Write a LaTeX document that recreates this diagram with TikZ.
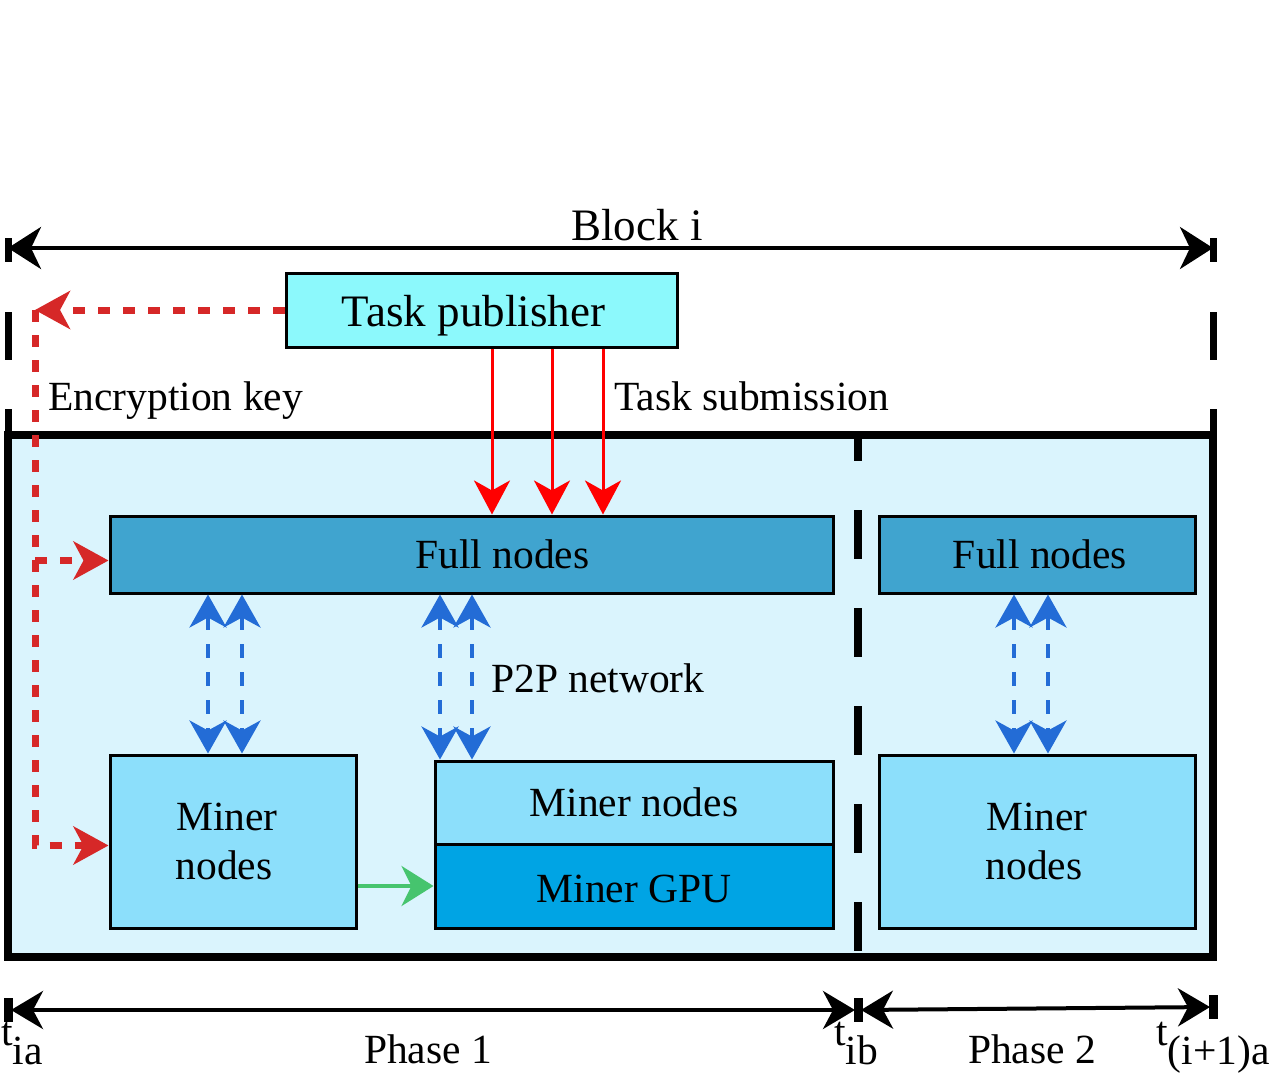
\documentclass[tikz,border=0pt]{standalone}
\usepackage{fontspec}
\setmainfont{Liberation Serif}
\usetikzlibrary{arrows.meta}
\usetikzlibrary{calc}
\definecolor{panelbg}{RGB}{218,244,253}
\definecolor{pubcyan}{RGB}{140,249,252}
\definecolor{fullblue}{RGB}{64,164,207}
\definecolor{minerblue}{RGB}{140,223,251}
\definecolor{gpublue}{RGB}{0,164,228}
\definecolor{keyred}{RGB}{214,40,40}
\definecolor{taskred}{RGB}{255,0,0}
\definecolor{p2pblue}{RGB}{35,108,214}
\definecolor{gpugreen}{RGB}{70,196,110}
\newcommand{\bigfont}{\fontsize{41.5}{49}\selectfont}
\newcommand{\headfont}{\fontsize{45}{50}\selectfont}
\newcommand{\tlabel}[1]{t\raisebox{-19pt}{#1}}
\newcommand{\lowered}[2]{\raisebox{-#1}[\height][\depth]{#2}}

\begin{document}
\begin{tikzpicture}[x=1pt,y=-1pt,font=\bigfont,
box/.style={draw=black,line width=3pt,inner sep=0pt,align=center},
blockline/.style={line width=4pt,{Stealth[length=33pt,width=42pt,inset=10pt]}-{Stealth[length=33pt,width=42pt,inset=10pt]}},
timeline/.style={line width=4pt,shorten <=3pt,shorten >=3pt,{Stealth[length=32pt,width=38pt,inset=10pt]}-{Stealth[length=32pt,width=38pt,inset=10pt]}},
tickbar/.style={line width=9pt},
edgedash/.style={line width=7pt,dash pattern=on 24pt off 50pt on 48pt off 49pt on 40pt},
phasedash/.style={line width=8pt,dash pattern=on 49pt off 49pt,dash phase=23pt},
keyline/.style={draw=keyred,line width=7pt,dash pattern=on 12pt off 13pt,-{Stealth[length=35pt,width=38pt,inset=10pt]}},
taskline/.style={draw=taskred,line width=3pt,-{Stealth[length=34pt,width=36pt,inset=10pt]}},
p2pline/.style={draw=p2pblue,line width=4pt,dash pattern=on 14pt off 14pt,{Stealth[length=33pt,width=37pt,inset=10pt]}-{Stealth[length=33pt,width=37pt,inset=10pt]}},
gpuline/.style={draw=gpugreen,line width=4pt,-{Stealth[length=32pt,width=40pt,inset=10pt]}}]
\useasboundingbox (0,0) rectangle (1270,1081);

\coordinate (blockL) at (8,248);
\coordinate (blockR) at (1213,248);
\coordinate (tia) at (8,1010);
\coordinate (tib) at (858,1010);
\coordinate (tnext) at (1213,1007);
\coordinate (keycorner) at (35,310);

\node[draw=black,line width=8pt,fill=panelbg,outer sep=0pt,inner sep=0pt,minimum width=1205pt,minimum height=522pt] (frame) at (610.5,696) {};

\node[box,fill=pubcyan,font=\headfont,minimum width=391pt,minimum height=74pt] (publisher) at (481.5,310) {\lowered{6pt}{Task publisher}\hspace*{16pt}};
\node[box,fill=fullblue,minimum width=723pt,minimum height=77pt] (fullA) at (471.5,554.5) {\hspace*{62pt}Full nodes};
\node[box,fill=fullblue,minimum width=316pt,minimum height=77pt] (fullB) at (1037,554.5) {\hspace*{6pt}Full nodes};
\node[box,fill=minerblue,minimum width=246pt,minimum height=173pt] (minerA) at (233,841.5) {Miner\hspace*{12pt}\\nodes\hspace*{18pt}};
\node[box,fill=minerblue,minimum width=398pt,minimum height=83pt] (minerB) at (634,802.5) {Miner nodes};
\node[box,fill=gpublue,minimum width=398pt,minimum height=84pt] (gpu) at (634,886) {\lowered{3pt}{Miner GPU}};
\node[box,fill=minerblue,minimum width=316pt,minimum height=173pt] (minerC) at (1037,841.5) {Miner\\nodes\hspace*{6pt}};

% block i and its edges
\draw[blockline] (blockL) -- (blockR);
\node[anchor=base,font=\headfont] (blocklabel) at (637,240) {Block i};
\draw[edgedash] ([yshift=10pt]blockL) -- (frame.north west);
\draw[edgedash] ([yshift=10pt]blockR) -- (frame.north east);
\draw[phasedash] (frame.north -| tib) -- (frame.south -| tib);

% encryption key
\draw[keyline] (publisher.west) -- (keycorner);
\draw[keyline] (keycorner) |- ($(minerA.west)+(0,4)$);
\draw[keyline] ($(keycorner |- fullA.west)+(0,6)$) -- ($(fullA.west)+(0,6)$);
\node[anchor=base west,inner sep=0pt] (keylabel) at (48,410) {Encryption key};

% task submission
\foreach \tx in {492,552,603}
  \draw[taskline] ([xshift=\tx-481.5]publisher.south) -- ([xshift=\tx-471.5]fullA.north);
\node[anchor=base west,inner sep=0pt] (tasklabel) at (614,410) {Task submission};

% p2p network
\foreach \dx in {-25,9}
  \draw[p2pline] ($(minerA.north |- fullA.south)+(\dx,0)$) -- ($(minerA.north)+(\dx,0)$);
\foreach \dx in {-194,-162}
  \draw[p2pline] ($(minerB.north |- fullA.south)+(\dx,0)$) -- ($(minerB.north)+(\dx,0)$);
\foreach \dx in {-23,11}
  \draw[p2pline] ($(minerC.north |- fullB.south)+(\dx,0)$) -- ($(minerC.north)+(\dx,0)$);
\node[anchor=base west,inner sep=0pt] (p2plabel) at (491,692) {P2P network};

\draw[gpuline] (minerA.east |- gpu.west) -- (gpu.west);

% phases
\foreach \tp in {tia,tib,tnext}
  \draw[tickbar] ([yshift=12pt]\tp) -- ([yshift=-12pt]\tp);
\draw[timeline] (tia) -- (tib);
\draw[timeline] (tib) -- (tnext);
\node[anchor=base] (phaseone) at (428,1063) {Phase 1};
\node[anchor=base] (phasetwo) at (1032,1063) {Phase 2};
\node[anchor=base] (tialabel) at (22,1045) {\tlabel{ia}};
\node[anchor=base] (tiblabel) at (856,1045) {\tlabel{ib}};
\node[anchor=base] (tnextlabel) at (1213,1045) {\tlabel{(i+1)a}};

\end{tikzpicture}
\end{document}
